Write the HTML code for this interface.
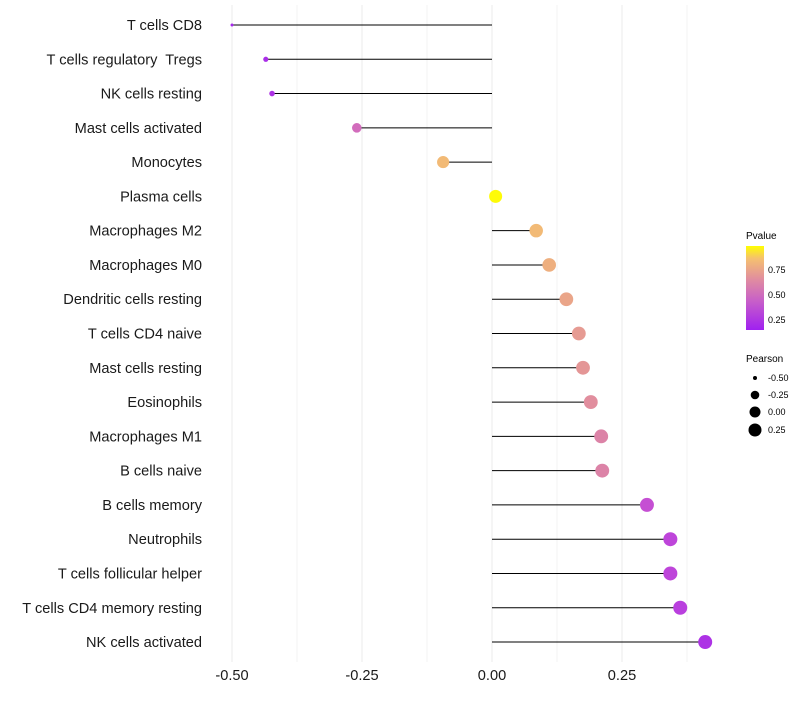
<!DOCTYPE html>
<html><head><meta charset="utf-8"><style>
body{margin:0;background:#fff;}
svg text{font-family:"Liberation Sans",sans-serif;white-space:pre;}
</style></head><body>
<svg id="chart" width="800" height="700" xmlns="http://www.w3.org/2000/svg">
<defs><linearGradient id="pg" x1="0" y1="1" x2="0" y2="0">
<stop offset="0" stop-color="#a020f0"/><stop offset="0.35" stop-color="#c860c8"/><stop offset="0.6" stop-color="#e08ca0"/><stop offset="0.85" stop-color="#f5c070"/><stop offset="1" stop-color="#ffff00"/></linearGradient></defs>
<g id="grid"></g><g id="marks"></g><g id="ylab"></g><g id="xlab"></g>
<g>
<text x="746" y="239" font-size="10">Pvalue</text>
<rect x="746" y="246" width="18" height="84" fill="url(#pg)"/>
<text x="768" y="273" font-size="9">0.75</text>
<text x="768" y="298" font-size="9">0.50</text>
<text x="768" y="323" font-size="9">0.25</text>
</g>
<g>
<text x="746" y="362" font-size="10">Pearson</text>
<circle cx="755" cy="378" r="2"/><text x="768" y="381" font-size="9">-0.50</text>
<circle cx="755" cy="395" r="4.3"/><text x="768" y="398" font-size="9">-0.25</text>
<circle cx="755" cy="412" r="5.5"/><text x="768" y="415" font-size="9">0.00</text>
<circle cx="755" cy="430" r="6.5"/><text x="768" y="433" font-size="9">0.25</text>
</g>
</svg>
<script>
const categories=["T cells CD8","T cells regulatory  Tregs","NK cells resting","Mast cells activated","Monocytes","Plasma cells","Macrophages M2","Macrophages M0","Dendritic cells resting","T cells CD4 naive","Mast cells resting","Eosinophils","Macrophages M1","B cells naive","B cells memory","Neutrophils","T cells follicular helper","T cells CD4 memory resting","NK cells activated"];
const pearson=[-0.50,-0.435,-0.423,-0.26,-0.094,0.007,0.085,0.11,0.143,0.167,0.175,0.19,0.21,0.212,0.298,0.343,0.343,0.362,0.41];
const pvalue=[0.12,0.15,0.17,0.45,0.82,0.99,0.82,0.77,0.72,0.67,0.65,0.61,0.56,0.56,0.32,0.27,0.27,0.24,0.17];
const xTicks=[-0.5,-0.25,0,0.25];
const xTickLabels=["-0.50","-0.25","0.00","0.25"];
const NS="http://www.w3.org/2000/svg";
const xs=v=>492+v*520;
const ys=i=>25+i*34.28;
const rs=v=>7-5.5*Math.pow(Math.max(0,(0.41-v)/0.91),3);
const stops=[[0.12,[165,40,235]],[0.3,[195,75,215]],[0.6,[224,140,160]],[0.85,[245,192,112]],[1.0,[255,255,0]]];
function col(p){p=Math.max(0.12,Math.min(1,p));for(let k=0;k<stops.length-1;k++){const a=stops[k],b=stops[k+1];if(p<=b[0]){const t=(p-a[0])/(b[0]-a[0]);return "rgb("+a[1].map((c,j)=>Math.round(c+(b[1][j]-c)*t)).join(",")+")";}}return "rgb(255,255,0)";}
function mk(tag,at,parent){const e=document.createElementNS(NS,tag);for(const k in at)e.setAttribute(k,at[k]);document.getElementById(parent).appendChild(e);return e;}
[-0.5,-0.375,-0.25,-0.125,0,0.125,0.25,0.375].forEach(v=>{
 const l=mk("line",{x1:xs(v),x2:xs(v),y1:5,y2:662,stroke:"#ebebeb","stroke-width":v*8%2===0?1:0.6},"grid");
 
 
});
categories.forEach((c,i)=>{
 const ln=mk("line",{x1:xs(0),x2:xs(pearson[i]),y1:ys(i),y2:ys(i),stroke:"#000","stroke-width":1},"marks");
 
 
 const d=mk("circle",{cx:xs(pearson[i]),cy:ys(i),r:rs(pearson[i]),fill:col(pvalue[i])},"marks");
 
 
 const t=mk("text",{x:202,y:ys(i)+5,"text-anchor":"end","font-size":14.6,fill:"#1a1a1a"},"ylab");
 t.textContent=c;
 
 
});
xTicks.forEach((v,i)=>{
 const t=mk("text",{x:xs(v),y:680,"text-anchor":"middle","font-size":14.6,fill:"#1a1a1a"},"xlab");
 t.textContent=xTickLabels[i];
 
 
});
</script>
</body></html>
